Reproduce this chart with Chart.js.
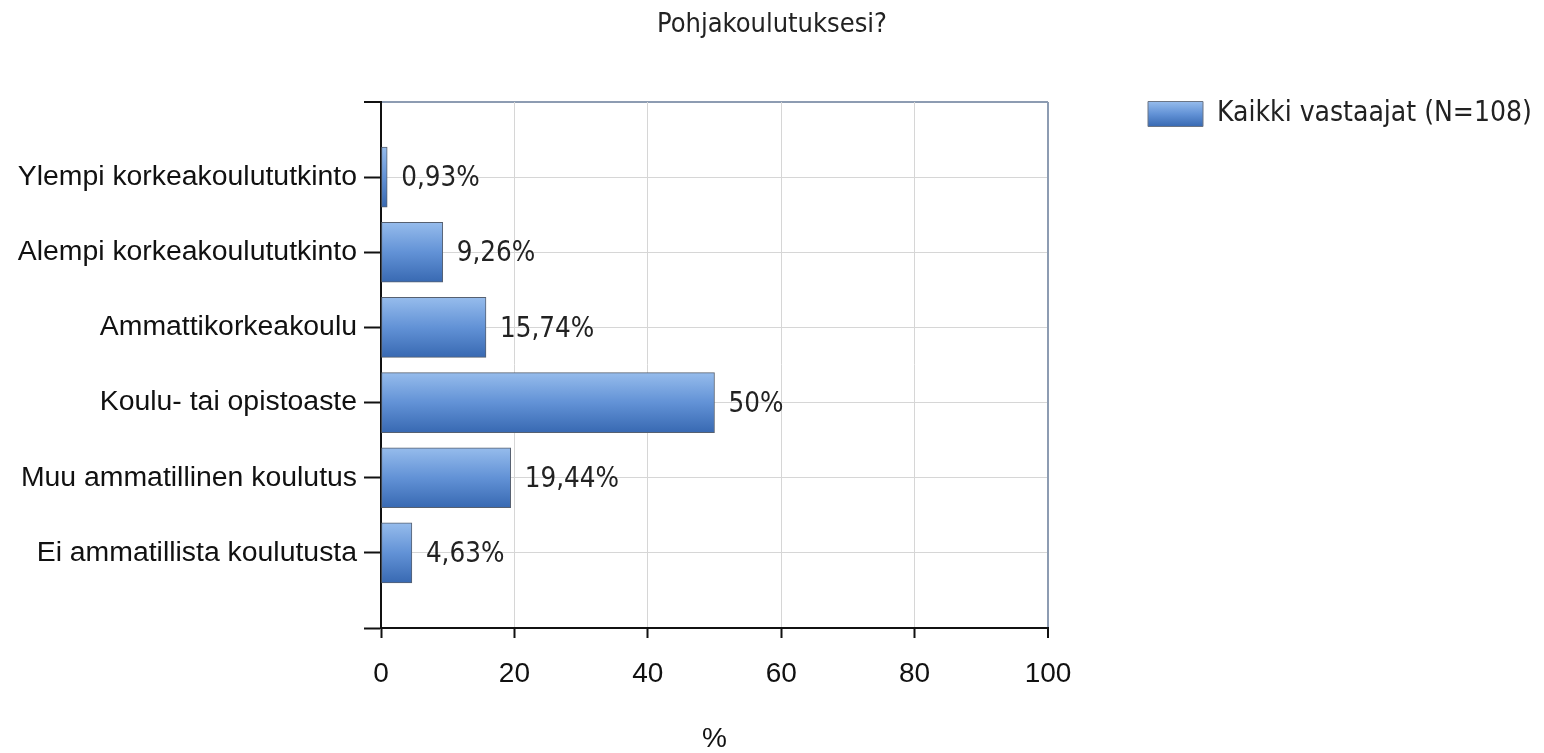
<!DOCTYPE html>
<html><head><meta charset="utf-8">
<script src="https://cdn.jsdelivr.net/npm/chart.js@4.4.1/dist/chart.umd.min.js"></script>
<style>html,body{margin:0;padding:0;background:#fff;overflow:hidden}#wrap{width:1544px;height:753px;position:relative}</style>
</head><body><div id="wrap"><canvas id="c"></canvas></div>
<script>
const chartTitle = 'Pohjakoulutuksesi?';
const seriesName = 'Kaikki vastaajat (N=108)';
const categories = ['Ylempi korkeakoulututkinto', 'Alempi korkeakoulututkinto', 'Ammattikorkeakoulu', 'Koulu- tai opistoaste', 'Muu ammatillinen koulutus', 'Ei ammatillista koulutusta'];
const values = [0.93, 9.26, 15.74, 50, 19.44, 4.63];
const xTickValues = [0, 20, 40, 60, 80, 100];
const xTitle = '%';

const ARIAL = "'Liberation Sans', Arial, sans-serif";
const TAHOMA = "'DejaVu Sans Condensed', 'DejaVu Sans', sans-serif";
const BAR_T = 60;
const LEG_PAD = 100, LEG_FONT = 28, LEG_BOX_H = 25;

const labels = [''].concat(categories, ['']);
const data = [null].concat(values, [null]);

function gradAt(c, y0, y1) {
  const g = c.createLinearGradient(0, y0, 0, y1);
  g.addColorStop(0, '#96bcec');
  g.addColorStop(0.5, '#6292d6');
  g.addColorStop(1, '#3869b2');
  return g;
}
function barFill(ctx) {
  const chart = ctx.chart;
  const ys = chart.scales && chart.scales.y;
  if (!ys || ctx.dataIndex == null) return '#6292d6';
  const yc = ys.getPixelForValue(ctx.dataIndex);
  if (!isFinite(yc)) return '#6292d6';
  return gradAt(chart.ctx, yc - BAR_T / 2, yc + BAR_T / 2);
}

const valueLabels = {
  id: 'valueLabels',
  afterDatasetsDraw(chart) {
    const meta = chart.getDatasetMeta(0);
    const c = chart.ctx;
    c.save();
    c.font = '27.5px ' + TAHOMA;
    c.fillStyle = '#222';
    c.textBaseline = 'middle';
    c.textAlign = 'left';
    meta.data.forEach((bar, i) => {
      const v = data[i];
      if (v == null) return;
      c.fillText(String(v).replace('.', ',') + '%', bar.x + 14, bar.y + 2);
    });
    c.restore();
  }
};

const chart = new Chart(document.getElementById('c'), {
  type: 'bar',
  data: {
    labels: labels,
    datasets: [{
      label: seriesName,
      data: data,
      backgroundColor: barFill,
      borderColor: '#566070',
      borderWidth: 1,
      borderSkipped: false,
      barThickness: BAR_T
    }]
  },
  plugins: [valueLabels],
  options: {
    indexAxis: 'y',
    responsive: true,
    maintainAspectRatio: false,
    animation: false,
    layout: { padding: 0 },
    scales: {
      y: {
        type: 'category',
        offset: false,
        grid: {
          offset: false,
          color: (ctx) => ctx.index === 0 ? '#8d9cb2' : (ctx.index === labels.length - 1 ? 'rgba(0,0,0,0)' : '#d6d6d6'),
          lineWidth: (ctx) => ctx.index === 0 ? 2 : 1,
          tickColor: '#111',
          tickLength: 17,
          tickWidth: 2
        },
        border: { color: '#111', width: 2 },
        ticks: {
          padding: 7,
          color: '#111',
          font: { family: ARIAL, size: 28.4 },
          autoSkip: false
        },
        afterFit: (s) => { s.width = 381; }
      },
      x: {
        type: 'linear',
        min: 0,
        max: 100,
        afterBuildTicks: (s) => { s.ticks = xTickValues.map(v => ({ value: v })); },
        grid: {
          color: (ctx) => ctx.tick && ctx.tick.value === 100 ? '#8d9cb2' : (ctx.tick && ctx.tick.value === 0 ? 'rgba(0,0,0,0)' : '#d6d6d6'),
          lineWidth: (ctx) => ctx.tick && ctx.tick.value === 100 ? 2 : 1,
          tickColor: '#111',
          tickLength: 10,
          tickWidth: 2
        },
        border: { color: '#111', width: 2 },
        ticks: {
          padding: 19,
          color: '#111',
          font: { family: ARIAL, size: 28 },
          maxRotation: 0
        },
        title: {
          display: true,
          text: xTitle,
          color: '#111',
          font: { family: ARIAL, size: 28, lineHeight: 1 },
          padding: { top: 0, bottom: 0 }
        },
        afterFit: (s) => { s.height = 125; s.paddingRight = 496; }
      }
    },
    plugins: {
      title: {
        display: true,
        text: chartTitle,
        color: '#222',
        font: { family: TAHOMA, size: 27, weight: 'normal', lineHeight: 1.2 },
        padding: { top: 9, bottom: 102 - 9 - 27 * 1.2 }
      },
      legend: {
        position: 'right',
        align: 'start',
        maxWidth: 495,
        labels: {
          boxWidth: 55,
          boxHeight: LEG_BOX_H,
          padding: LEG_PAD,
          color: '#222',
          font: { family: TAHOMA, size: LEG_FONT },
          generateLabels: (ch) => {
            let fill = '#6292d6';
            if (ch.legend && isFinite(ch.legend.top)) {
              const top = ch.legend.top + LEG_PAD + (LEG_FONT - LEG_BOX_H) / 2;
              fill = gradAt(ch.ctx, top, top + LEG_BOX_H);
            }
            return [{ text: seriesName, fillStyle: fill, strokeStyle: '#6b7585', fontColor: '#222', lineWidth: 1, hidden: false, datasetIndex: 0 }];
          }
        }
      },
      tooltip: { enabled: false }
    }
  }
});
chart.update();
</script>
</body></html>
